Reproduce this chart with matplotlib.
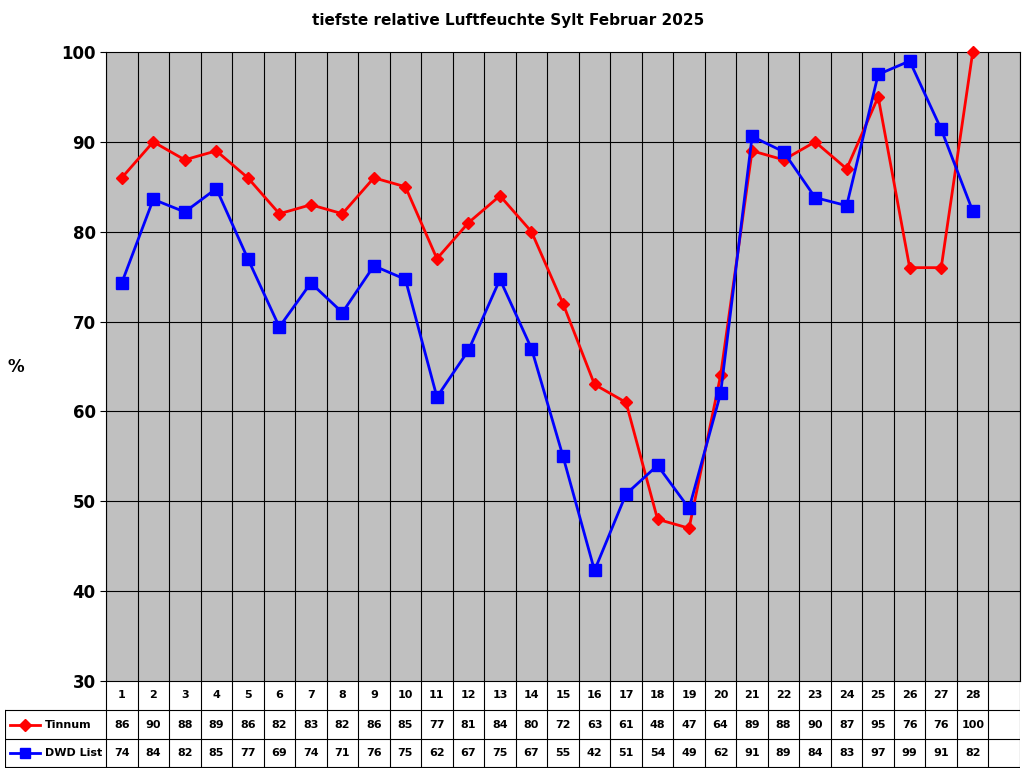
import numpy as np
import matplotlib.pyplot as plt

days = list(range(1, 29))
tinnum = [86, 90, 88, 89, 86, 82, 83, 82, 86, 85, 77, 81, 84, 80, 72, 63, 61, 48, 47, 64,
          89, 88, 90, 87, 95, 76, 76, 100]
dwd = [74.3, 83.6, 82.2, 84.8, 77.0, 69.4, 74.3, 71.0, 76.2, 74.7, 61.6, 66.8, 74.7, 67.0,
       55.0, 42.3, 50.8, 54.0, 49.2, 62.0, 90.6, 88.9, 83.8, 82.9, 97.5, 99.0, 91.4, 82.3]
dwd_labels = [74, 84, 82, 85, 77, 69, 74, 71, 76, 75, 62, 67, 75, 67, 55, 42, 51, 54, 49, 62,
              91, 89, 84, 83, 97, 99, 91, 82]

W, H = 1024, 768
ncol = 29  # one empty category at the end
fig = plt.figure(figsize=(W / 100, H / 100), dpi=100)
fig.patch.set_facecolor('white')

x0, x1, ytop, ybot = 106, 1020, 52, 681
ax = fig.add_axes([x0 / W, 1 - ybot / H, (x1 - x0) / W, (ybot - ytop) / H])
ax.set_facecolor('#c0c0c0')
ax.plot(days, tinnum, color='#ff0000', lw=2, marker='D', ms=6, zorder=3, clip_on=False)
ax.plot(days, dwd, color='#0000ff', lw=2, marker='s', ms=8, zorder=3, clip_on=False)
ax.set_xlim(0.5, ncol + 0.5)
ax.set_ylim(30, 100)
ax.set_yticks(range(30, 101, 10))
ax.set_yticklabels([str(v) for v in range(30, 101, 10)], fontsize=12, fontweight='bold')
ax.set_xticks([])
for k in range(ncol + 1):
    ax.axvline(0.5 + k, color='black', lw=0.8, zorder=1)
for v in range(40, 100, 10):
    ax.axhline(v, color='black', lw=0.8, zorder=1)
for s in ax.spines.values():
    s.set_color('black')
ax.tick_params(axis='y', length=4)

fig.text(508 / W, 1 - 20 / H, 'tiefste relative Luftfeuchte Sylt Februar 2025',
         ha='center', va='center', fontsize=11, fontweight='bold')
fig.text(16 / W, 1 - 367 / H, '%', ha='center', va='center', fontsize=12, fontweight='bold')

# data table
tx0 = 5
tb = fig.add_axes([tx0 / W, 0, (x1 - tx0) / W, (H - ybot) / H])
tb.set_xlim(tx0, x1)
tb.set_ylim(H, ybot)
tb.axis('off')
cw = (x1 - x0) / ncol
rows = [ybot, 710, 739, 767]
for y in rows[1:]:
    tb.plot([tx0, x1], [y, y], color='black', lw=0.8)
tb.plot([tx0, tx0], [rows[1], rows[3]], color='black', lw=0.8)
for k in range(ncol + 1):
    tb.plot([x0 + k * cw] * 2, [rows[0], rows[3]], color='black', lw=0.8)
for i in range(28):
    cx = x0 + (i + 0.5) * cw
    tb.text(cx, 695, str(days[i]), ha='center', va='center', fontsize=8, fontweight='bold')
    tb.text(cx, 725, str(tinnum[i]), ha='center', va='center', fontsize=8, fontweight='bold')
    tb.text(cx, 753, str(dwd_labels[i]), ha='center', va='center', fontsize=8, fontweight='bold')
tb.plot([10, 40], [725, 725], color='#ff0000', lw=2, clip_on=False)
tb.plot([25], [725], color='#ff0000', marker='D', ms=6, clip_on=False)
tb.plot([10, 40], [753, 753], color='#0000ff', lw=2, clip_on=False)
tb.plot([25], [753], color='#0000ff', marker='s', ms=7, clip_on=False)
tb.text(45, 725, 'Tinnum', ha='left', va='center', fontsize=8, fontweight='bold')
tb.text(45, 753, 'DWD List', ha='left', va='center', fontsize=8, fontweight='bold')

fig.savefig('out.png', dpi=100)
